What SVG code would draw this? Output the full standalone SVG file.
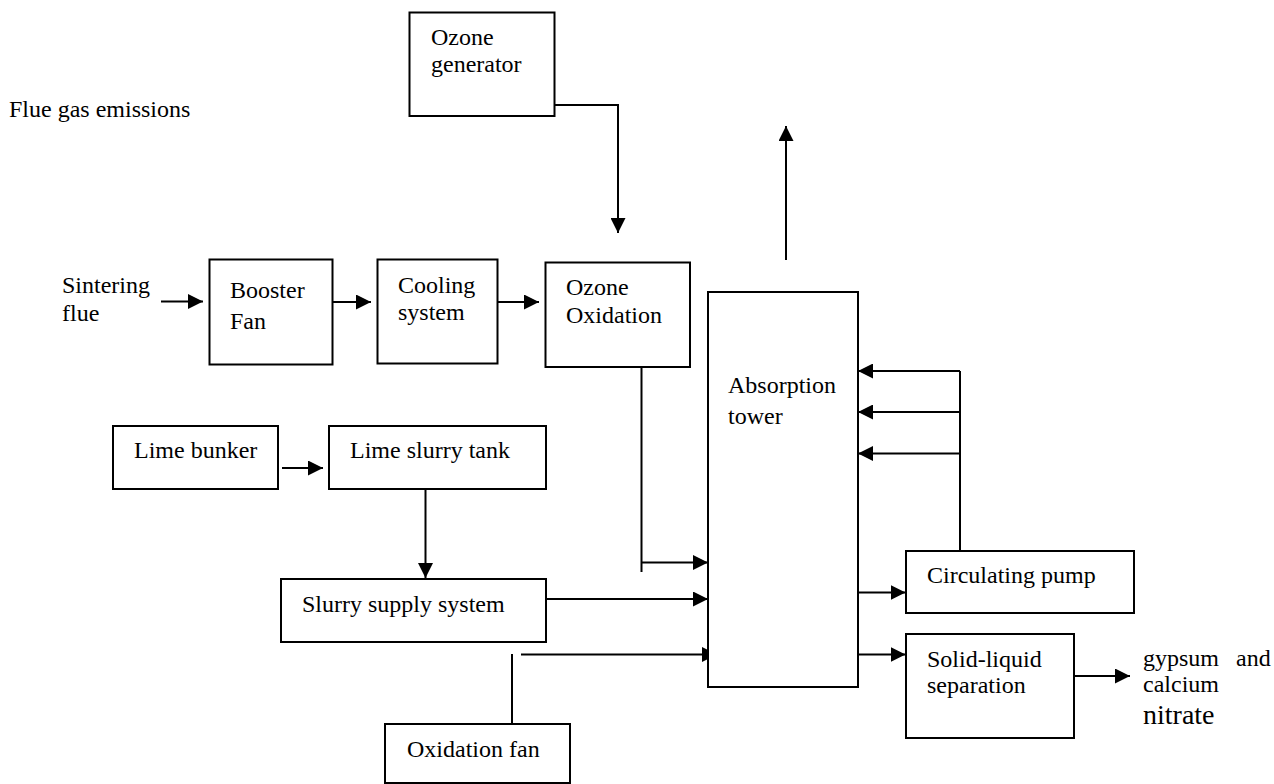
<svg xmlns="http://www.w3.org/2000/svg" width="1274" height="784" viewBox="0 0 1274 784" font-family="'Liberation Serif', 'Times New Roman', Times, serif">
<style>
.box{fill:#fff;stroke:#000;stroke-width:2}
.t{font-family:'Liberation Serif','Times New Roman',Times,serif;font-size:24px;fill:#000}
.c{fill:none;stroke:#000;stroke-width:2}
.a{marker-end:url(#ah)}
</style>
<defs>
<marker id="ah" viewBox="0 0 15 15" refX="15" refY="7.5" markerWidth="15" markerHeight="15" markerUnits="userSpaceOnUse" orient="auto">
<path d="M0,0 L15,7.5 L0,15 z" fill="#000"/>
</marker>
</defs>
<rect width="1274" height="784" fill="#fff"/>
<g id="labels">
<text class="t" x="9" y="117">Flue gas emissions</text>
<text class="t" x="62" y="293">Sintering</text>
<text class="t" x="62" y="321">flue</text>
<text class="t" x="1143" y="666">gypsum<tspan x="1236">and</tspan></text>
<text class="t" x="1143" y="692">calcium</text>
<text class="t" x="1143" y="724" style="font-size:28px">nitrate</text>
</g>
<g id="connectors">
<path class="c a" d="M161,301.5 H203"/>
<path class="c a" d="M329,302 H371"/>
<path class="c a" d="M498,302 H539"/>
<path class="c a" d="M554,105 H618 V233"/>
<path class="c a" d="M786,260 V126"/>
<path class="c a" d="M282,468 H323"/>
<path class="c a" d="M425.5,489 V578"/>
<path class="c" d="M641.5,367 V572"/>
<path class="c a" d="M641.5,562.5 H708"/>
<path class="c a" d="M546,599 H708"/>
<path class="c" d="M512,724 V654"/>
<path class="c a" d="M521,654.5 H717"/>
<path class="c" d="M960,559 V371"/>
<path class="c a" d="M960,371 H858"/>
<path class="c a" d="M960,412 H858"/>
<path class="c a" d="M960,453.5 H858"/>
<path class="c a" d="M858,592.5 H905.5"/>
<path class="c a" d="M858,654.5 H905.5"/>
<path class="c a" d="M1074,676 H1130"/>
</g>
<g id="ozone-generator">
<rect class="box" x="409.5" y="12.5" width="145" height="103.5"/>
<text class="t" x="431" y="45">Ozone</text>
<text class="t" x="431" y="72">generator</text>
</g>
<g id="booster-fan">
<rect class="box" x="209.5" y="259.5" width="123" height="105"/>
<text class="t" x="230" y="298">Booster</text>
<text class="t" x="230" y="329">Fan</text>
</g>
<g id="cooling-system">
<rect class="box" x="377.5" y="259.5" width="120" height="104"/>
<text class="t" x="398" y="293">Cooling</text>
<text class="t" x="398" y="320">system</text>
</g>
<g id="ozone-oxidation">
<rect class="box" x="545.5" y="262.5" width="144.5" height="104.5"/>
<text class="t" x="566" y="295">Ozone</text>
<text class="t" x="566" y="322.5">Oxidation</text>
</g>
<g id="absorption-tower">
<rect class="box" x="708" y="292" width="150" height="395"/>
<text class="t" x="728" y="392.5">Absorption</text>
<text class="t" x="728" y="424">tower</text>
</g>
<g id="lime-bunker">
<rect class="box" x="113" y="426" width="165" height="63"/>
<text class="t" x="134" y="458">Lime bunker</text>
</g>
<g id="lime-slurry-tank">
<rect class="box" x="329" y="426" width="217" height="63"/>
<text class="t" x="350" y="458">Lime slurry tank</text>
</g>
<g id="slurry-supply-system">
<rect class="box" x="281" y="579" width="265" height="63"/>
<text class="t" x="302" y="611.5">Slurry supply system</text>
</g>
<g id="circulating-pump">
<rect class="box" x="906" y="551" width="228" height="62"/>
<text class="t" x="927" y="583">Circulating pump</text>
</g>
<g id="solid-liquid-separation">
<rect class="box" x="906" y="634" width="168" height="104"/>
<text class="t" x="927" y="666.5">Solid-liquid</text>
<text class="t" x="927" y="693">separation</text>
</g>
<g id="oxidation-fan">
<rect class="box" x="385" y="724" width="185" height="59"/>
<text class="t" x="407" y="756.5">Oxidation fan</text>
</g>
</svg>
